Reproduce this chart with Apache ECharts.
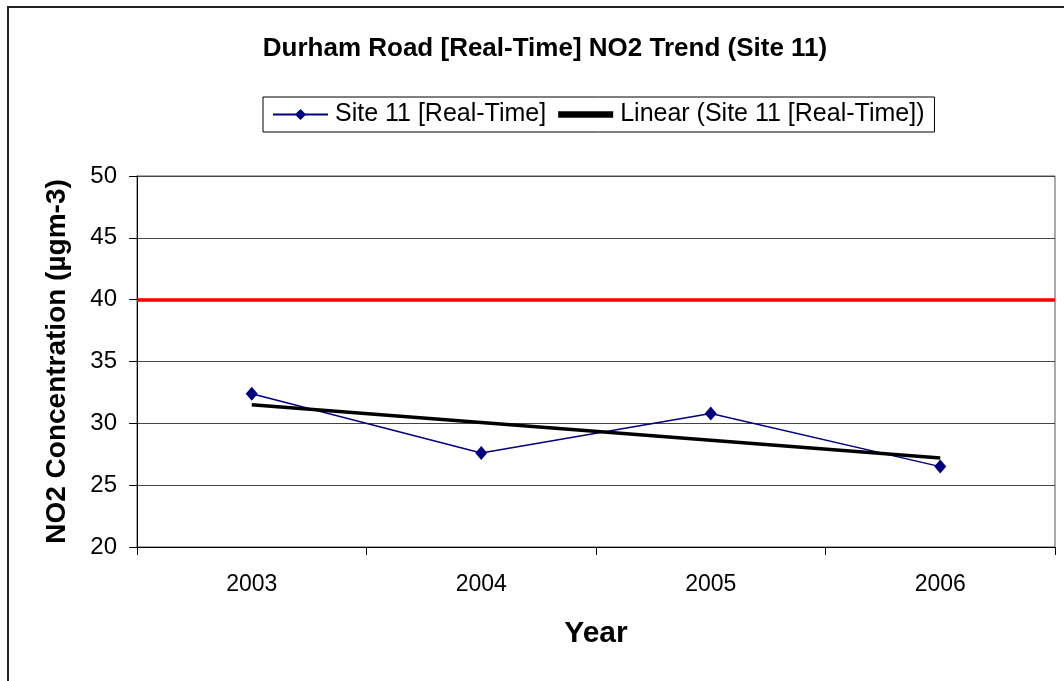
<!DOCTYPE html>
<html>
<head>
<meta charset="utf-8">
<script src="https://cdn.jsdelivr.net/npm/echarts@6/dist/echarts.min.js"></script>
<style>
html,body{margin:0;padding:0;background:#fff;}
#frame{position:absolute;left:7px;top:6px;width:1070px;height:690px;border:2px solid #222;box-sizing:border-box;}
#chart{position:absolute;left:0;top:0;width:1064px;height:681px;}
</style>
</head>
<body>
<div id="frame"></div>
<div id="chart"></div>
<script>
const years = ['2003', '2004', '2005', '2006'];
const site11 = [32.4, 27.6, 30.8, 26.5];
const trendEnds = [31.5, null, null, 27.2];
const objective = 40;
const yTicks = [20, 25, 30, 35, 40, 45, 50];

const chart = echarts.init(document.getElementById('chart'), null, {renderer: 'canvas'});
const font = '"Liberation Sans", Arial, sans-serif';
chart.setOption({
  backgroundColor: 'transparent',
  animation: false,
  title: {
    text: 'Durham Road [Real-Time] NO2 Trend (Site 11)',
    left: 540, top: 31, textAlign: 'center',
    textStyle: {fontFamily: font, fontWeight: 'bold', fontSize: 26, color: '#000'}
  },
  legend: {
    left: 263, top: 97,
    padding: [5, 10, 5, 9],
    borderColor: '#000', borderWidth: 1,
    itemWidth: 55, itemHeight: 14, itemGap: 12,
    textStyle: {fontFamily: font, fontSize: 25, color: '#000', padding: [0, 0, 0, 2]},
    data: [
      {name: 'Site 11 [Real-Time]'},
      {name: 'Linear (Site 11 [Real-Time])', icon: 'path://M0,4.4H10V5.6H0Z'}
    ]
  },
  grid: {
    left: 137, right: 9, top: 176, bottom: 134,
    show: true, borderColor: '#555', borderWidth: 1
  },
  xAxis: {
    type: 'category', data: years, boundaryGap: true,
    name: 'Year', nameLocation: 'middle', nameGap: 72,
    nameTextStyle: {fontFamily: font, fontWeight: 'bold', fontSize: 30, color: '#000'},
    axisLine: {lineStyle: {color: '#000', width: 1}},
    axisTick: {show: true, inside: false, length: 8, alignWithLabel: false, lineStyle: {color: '#000'}},
    axisLabel: {fontFamily: font, fontSize: 23, color: '#000', margin: 26},
    splitLine: {show: false}
  },
  yAxis: {
    type: 'value', min: yTicks[0], max: yTicks[yTicks.length - 1], interval: 5,
    name: 'NO2 Concentration (µgm-3)', nameLocation: 'middle', nameGap: 66,
    nameTextStyle: {fontFamily: font, fontWeight: 'bold', fontSize: 28, color: '#000'},
    axisLine: {show: true, lineStyle: {color: '#000', width: 1}},
    axisTick: {show: true, inside: false, length: 8, lineStyle: {color: '#000'}},
    axisLabel: {fontFamily: font, fontSize: 24, color: '#000', margin: 20},
    splitLine: {show: true, lineStyle: {color: '#444', width: 1}}
  },
  series: [
    {
      name: 'Site 11 [Real-Time]', type: 'line', data: site11,
      symbol: 'diamond', symbolSize: [12, 14], z: 3,
      lineStyle: {color: '#000080', width: 1.5},
      itemStyle: {color: '#000080'},
      markLine: {
        silent: true, symbol: 'none', label: {show: false},
        lineStyle: {color: '#ff0000', width: 3.5, type: 'solid'},
        data: [{yAxis: objective}]
      }
    },
    {
      name: 'Linear (Site 11 [Real-Time])', type: 'line', data: trendEnds,
      connectNulls: true, symbol: 'none', z: 4,
      lineStyle: {color: '#000', width: 3.5},
      itemStyle: {color: '#000'}
    }
  ]
});
</script>
</body>
</html>
